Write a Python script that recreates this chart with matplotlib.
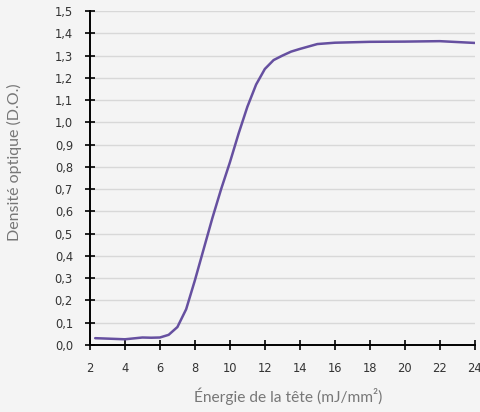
import matplotlib
matplotlib.use("Agg")
import matplotlib.pyplot as plt
from matplotlib.ticker import FuncFormatter, MultipleLocator

plt.rcParams["font.family"] = ["DejaVu Sans"]

# values
energie = [2.3, 3, 4, 5, 5.5, 6, 6.5, 7, 7.5, 8, 8.5, 9, 9.5, 10, 10.5,
           11, 11.5, 12, 12.5, 13, 13.5, 14, 15, 16, 18, 20, 22, 24]
densite = [0.030, 0.028, 0.025, 0.033, 0.032, 0.033, 0.045, 0.08, 0.16, 0.29,
           0.43, 0.57, 0.70, 0.82, 0.95, 1.07, 1.17, 1.24, 1.28, 1.30, 1.318,
           1.33, 1.352, 1.358, 1.362, 1.363, 1.365, 1.357]

bg = "#f4f4f4"
fig = plt.figure(figsize=(4.81, 4.12), dpi=100, facecolor=bg)
ax = fig.add_axes([0.187, 0.163, 0.800, 0.810], facecolor=bg)

ax.plot(energie, densite, color="#6650a0", lw=1.8, solid_capstyle="round",
        solid_joinstyle="round", zorder=3)

ax.set_xlim(2, 24)
ax.set_ylim(0, 1.5)
ax.xaxis.set_major_locator(MultipleLocator(2))
ax.yaxis.set_major_locator(MultipleLocator(0.1))
ax.yaxis.set_major_formatter(FuncFormatter(lambda v, p: f"{v:.1f}".replace(".", ",")))

ax.grid(axis="y", color="#d8d8d8", lw=1.0)
ax.set_axisbelow(True)
for s in ("top", "right"):
    ax.spines[s].set_visible(False)
for s in ("left", "bottom"):
    ax.spines[s].set_color("black")
    ax.spines[s].set_linewidth(1.4)
    ax.spines[s].set_zorder(4)

ax.tick_params(direction="inout", length=6.5, width=1.2, color="black",
               labelsize=8.3, labelcolor="#333333")
ax.tick_params(axis="x", pad=9)
ax.tick_params(axis="y", pad=9)

ax.set_xlabel("Énergie de la tête (mJ/mm²)", fontsize=11.2, color="#777777",
              family="Lato")
ax.set_ylabel("Densité optique (D.O.)", fontsize=11.5, color="#777777",
              family="Lato")
ax.xaxis.set_label_coords(0.514, -0.129)
ax.yaxis.set_label_coords(-0.176, 0.548)

fig.savefig("out.png", dpi=100, facecolor=bg)
